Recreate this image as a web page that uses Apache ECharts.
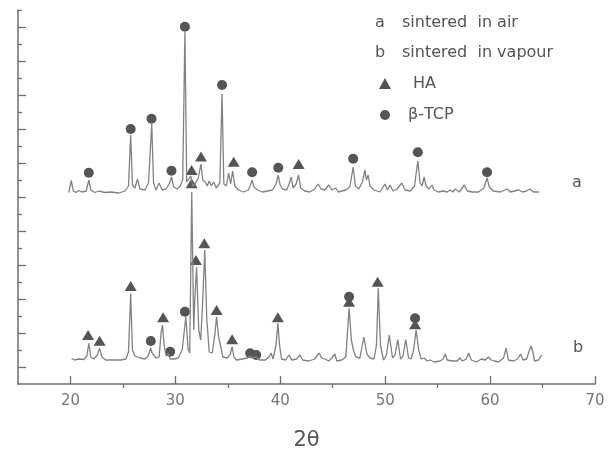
<!DOCTYPE html>
<html>
<head>
<meta charset="utf-8">
<title>XRD</title>
<script src="https://cdn.jsdelivr.net/npm/echarts@6.0.0/dist/echarts.min.js"></script>
<style>
  html, body { margin: 0; padding: 0; background: #fff; }
  #chart { width: 614px; height: 454px; }
</style>
</head>
<body>
<div id="chart"></div>
<script>
// pattern a: sintered in air (2theta, intensity a.u.)
const thetaA = [19.84,20.08,20.27,20.51,20.79,21.08,21.51,21.75,21.94,22.33,
  22.71,23.28,23.86,24.62,25.20,25.53,25.74,25.91,26.15,26.39,
  26.63,27.11,27.44,27.75,27.92,28.16,28.45,28.74,29.12,29.41,
  29.63,29.84,30.17,30.46,30.70,30.91,31.08,31.27,31.46,31.66,
  31.89,32.18,32.44,32.61,32.85,33.04,33.23,33.43,33.67,33.90,
  34.24,34.45,34.62,34.86,35.08,35.27,35.46,35.67,36.01,36.49,
  36.96,37.16,37.32,37.49,37.83,38.31,38.79,39.26,39.60,39.81,
  39.98,40.22,40.60,40.84,41.05,41.22,41.51,41.75,41.94,42.33,
  42.80,43.28,43.60,43.90,44.24,44.62,44.91,45.29,45.53,45.87,
  46.25,46.63,46.95,47.16,47.49,47.83,48.07,48.21,48.38,48.55,
  48.93,49.50,49.98,50.22,50.46,50.75,51.13,51.58,51.90,52.38,
  52.80,53.11,53.33,53.52,53.71,53.90,54.19,54.45,54.67,55.05,
  55.53,55.91,56.20,56.44,56.68,57.06,57.54,57.82,58.30,58.88,
  59.41,59.71,59.93,60.31,60.98,61.63,61.94,62.32,62.74,63.09,
  63.47,63.79,64.14,64.67]
const intensityA = [191.5,203.5,193,191.5,193.5,192,193,204,194,191.5,
  193,191.5,192,191,193,198,249,199,196,205,
  195,194,201,260,201,194,201,194,195,200,
  207,197,195,198,204,352,202,200,208,198,
  200,206,220,204,202,198,203,198,202,196,
  201,290,200,198,211,200,213,198,194,192,
  194,199,204,197,194,192,193,194,200,209,
  199,195,194,200,207,196,200,209,196,193,
  192,195,200,195,194,199,194,196,192,193,
  194,197,217,198,195,202,214,204,209,198,
  194,192,200,194,199,193,195,201,194,193,
  198,223,201,198,207,198,195,199,194,192,
  193,192,194,192,195,192,199,193,192,192,
  196,206,197,193,192,195,192,193,194,192,
  193,195,192,192]

// pattern b: sintered in vapour
const thetaB = [20.10,20.41,20.79,21.27,21.56,21.75,21.94,22.23,22.56,22.78,
  23.00,23.38,24.14,24.81,25.29,25.53,25.74,25.91,26.15,26.63,
  27.11,27.40,27.64,27.78,27.97,28.16,28.45,28.64,28.77,28.93,
  29.12,29.31,29.50,29.89,30.27,30.65,31.00,31.22,31.37,31.56,
  31.75,31.85,32.02,32.23,32.42,32.61,32.80,33.00,33.23,33.52,
  33.76,33.93,34.12,34.29,34.53,34.96,35.24,35.41,35.58,35.82,
  36.39,36.87,37.13,37.35,37.70,38.02,38.59,38.98,39.12,39.31,
  39.60,39.77,39.93,40.12,40.51,40.84,41.08,41.56,41.89,42.13,
  42.71,43.28,43.71,43.95,44.24,44.43,44.62,44.91,45.20,45.39,
  45.87,46.25,46.56,46.78,46.97,47.21,47.59,47.97,48.26,48.55,
  48.93,49.17,49.34,49.55,49.84,50.12,50.39,50.70,50.94,51.20,
  51.46,51.70,51.96,52.23,52.47,52.71,52.95,53.19,53.43,53.71,
  54.00,54.29,54.67,55.24,55.53,55.72,55.91,56.39,56.87,57.11,
  57.35,57.73,57.95,58.21,58.69,59.17,59.36,59.55,59.84,60.12,
  60.41,60.80,61.28,61.53,61.75,62.23,62.62,62.90,63.14,63.48,
  63.76,63.90,64.05,64.24,64.62,64.91]
const intensityB = [25.5,24,25,24.5,28,40.7,27,25,29,35.7,
  27,24,24,24,25,32,90.5,34,28,26,
  25,28,36,31,33,26,27,51,59,39,
  28,31,25,25,26,34,67.3,34,31,192,
  54,84,116.7,54,44,84,134,64,32,31,
  49,67.3,47.3,39,27,26,30,37.3,27,24,
  25,26,28,26,27,24,24,28,31,25,
  39,60.7,39,25,24,29,24,25,29,24,
  23,25,31,26,25,27,23,26,30,23,
  24,27,75.7,44,34,27,26,47,30,26,
  25,39,95.7,39,24,29,49,26,29,44.5,
  25,28,44.5,26,25,34,54,34,25,26,
  23,24,22,23,25,30,24,23,23,26,
  23,25,31,24,22,25,27,24,27,24,
  23,22,26,36,24,23,25,30,24,25,
  34,38,33,23,24,29]

// phase markers (position of the symbol above each indexed peak)
const haThetaA = [31.55, 32.44, 35.56, 41.75]
const haMarkA = [214, 227.5, 222.3, 220]
const tcpThetaA = [21.75, 25.74, 27.73, 29.63, 30.91, 34.45, 37.32, 39.81, 46.95, 53.11, 59.71]
const tcpMarkA = [211.3, 255, 265.3, 213.3, 357.3, 299, 211.7, 216.3, 225.3, 231.7, 211.7]
const haThetaB = [21.68, 22.78, 25.74, 28.83, 31.55, 31.96, 32.76, 33.93, 35.41, 39.77, 46.56, 49.28, 52.85]
const haMarkB = [49, 43.3, 98, 66.7, 200.7, 124, 140.7, 74, 44.7, 66.7, 82.3, 102.3, 59.7]
const tcpThetaB = [27.66, 29.50, 30.91, 37.13, 37.70, 46.56, 52.85]
const tcpMarkB = [43, 32.3, 72.3, 30.7, 29, 87.3, 65.7]

// ticks
const xMajorTicks = [20, 30, 40, 50, 60, 70]
const xMinorTicks = [25, 35, 45, 55, 65]
const yLongTicks = [17, 51, 85, 119, 153, 187, 221, 255, 289, 323, 357]
const yShortTicks = [34, 68, 102, 136, 170, 204, 238, 272, 306, 340, 374]

const zip = (xs, ys) => xs.map((x, i) => [x, ys[i]])

const FONT = "DejaVu Sans"
const axisColor = "#6e6e6e"
const lineColor = "#828282"
const markColor = "#555555"
const textColor = "#555555"

const xCommon = { type: "value", min: 15, max: 70, interval: 5, splitLine: { show: false } }
const yCommon = { type: "value", min: 0, max: 374, position: "left", splitLine: { show: false }, axisLabel: { show: false } }

let myChart = echarts.init(document.getElementById("chart"))
myChart.setOption({
  animation: false,
  backgroundColor: "#fff",
  grid: { left: 18, right: 19, top: 10, bottom: 70, outerBoundsMode: "none", containLabel: false },
  xAxis: [
    {
      ...xCommon,
      axisLine: { lineStyle: { color: axisColor, width: 1.5 } },
      axisTick: { inside: true, length: 8, customValues: xMajorTicks, lineStyle: { color: axisColor, width: 1.3 } },
      axisLabel: { customValues: xMajorTicks, color: "#777", fontSize: 15, fontFamily: FONT, margin: 10 },
      name: "2θ",
      nameLocation: "middle",
      nameGap: 46,
      nameTextStyle: { fontSize: 21, color: textColor, fontFamily: FONT },
    },
    {
      ...xCommon,
      axisLine: { show: false },
      axisTick: { inside: true, length: 4, customValues: xMinorTicks, lineStyle: { color: axisColor, width: 1.3 } },
      axisLabel: { show: false },
    },
  ],
  yAxis: [
    {
      ...yCommon,
      axisLine: { show: true, lineStyle: { color: axisColor, width: 1.5 } },
      axisTick: { show: true, inside: true, length: 8, customValues: yLongTicks, lineStyle: { color: axisColor, width: 1.3 } },
    },
    {
      ...yCommon,
      axisLine: { show: false },
      axisTick: { show: true, inside: true, length: 4, customValues: yShortTicks, lineStyle: { color: axisColor, width: 1.3 } },
    },
  ],
  graphic: [
    { type: "text", x: 375, y: 23, style: { text: "a", fill: textColor, fontSize: 16, fontFamily: FONT, verticalAlign: "middle" } },
    { type: "text", x: 402, y: 23, style: { text: "sintered  in air", fill: textColor, fontSize: 16, fontFamily: FONT, verticalAlign: "middle" } },
    { type: "text", x: 375, y: 53, style: { text: "b", fill: textColor, fontSize: 16, fontFamily: FONT, verticalAlign: "middle" } },
    { type: "text", x: 402, y: 53, style: { text: "sintered  in vapour", fill: textColor, fontSize: 16, fontFamily: FONT, verticalAlign: "middle" } },
    { type: "polygon", shape: { points: [[385, 78], [391, 89], [379, 89]] }, style: { fill: markColor } },
    { type: "text", x: 413, y: 84, style: { text: "HA", fill: textColor, fontSize: 16, fontFamily: FONT, verticalAlign: "middle" } },
    { type: "circle", shape: { cx: 385, cy: 115, r: 5 }, style: { fill: markColor } },
    { type: "text", x: 408, y: 115, style: { text: "β-TCP", fill: textColor, fontSize: 16, fontFamily: FONT, verticalAlign: "middle" } },
    { type: "text", x: 572, y: 183, style: { text: "a", fill: textColor, fontSize: 16, fontFamily: FONT, verticalAlign: "middle" } },
    { type: "text", x: 573, y: 348, style: { text: "b", fill: textColor, fontSize: 16, fontFamily: FONT, verticalAlign: "middle" } },
  ],
  series: [
    {
      name: "sintered in air",
      type: "line",
      data: zip(thetaA, intensityA),
      showSymbol: false,
      lineStyle: { color: lineColor, width: 1.3 },
    },
    {
      name: "sintered in vapour",
      type: "line",
      data: zip(thetaB, intensityB),
      showSymbol: false,
      lineStyle: { color: lineColor, width: 1.3 },
    },
    {
      name: "HA",
      type: "scatter",
      symbol: "triangle",
      symbolSize: [12, 10],
      data: zip(haThetaA, haMarkA).concat(zip(haThetaB, haMarkB)),
      itemStyle: { color: markColor, opacity: 1 },
    },
    {
      name: "β-TCP",
      type: "scatter",
      symbol: "circle",
      symbolSize: 10,
      data: zip(tcpThetaA, tcpMarkA).concat(zip(tcpThetaB, tcpMarkB)),
      itemStyle: { color: markColor, opacity: 1 },
    },
  ],
})

window.addEventListener("resize", () => {
  myChart.resize()
})
</script>
</body>
</html>
